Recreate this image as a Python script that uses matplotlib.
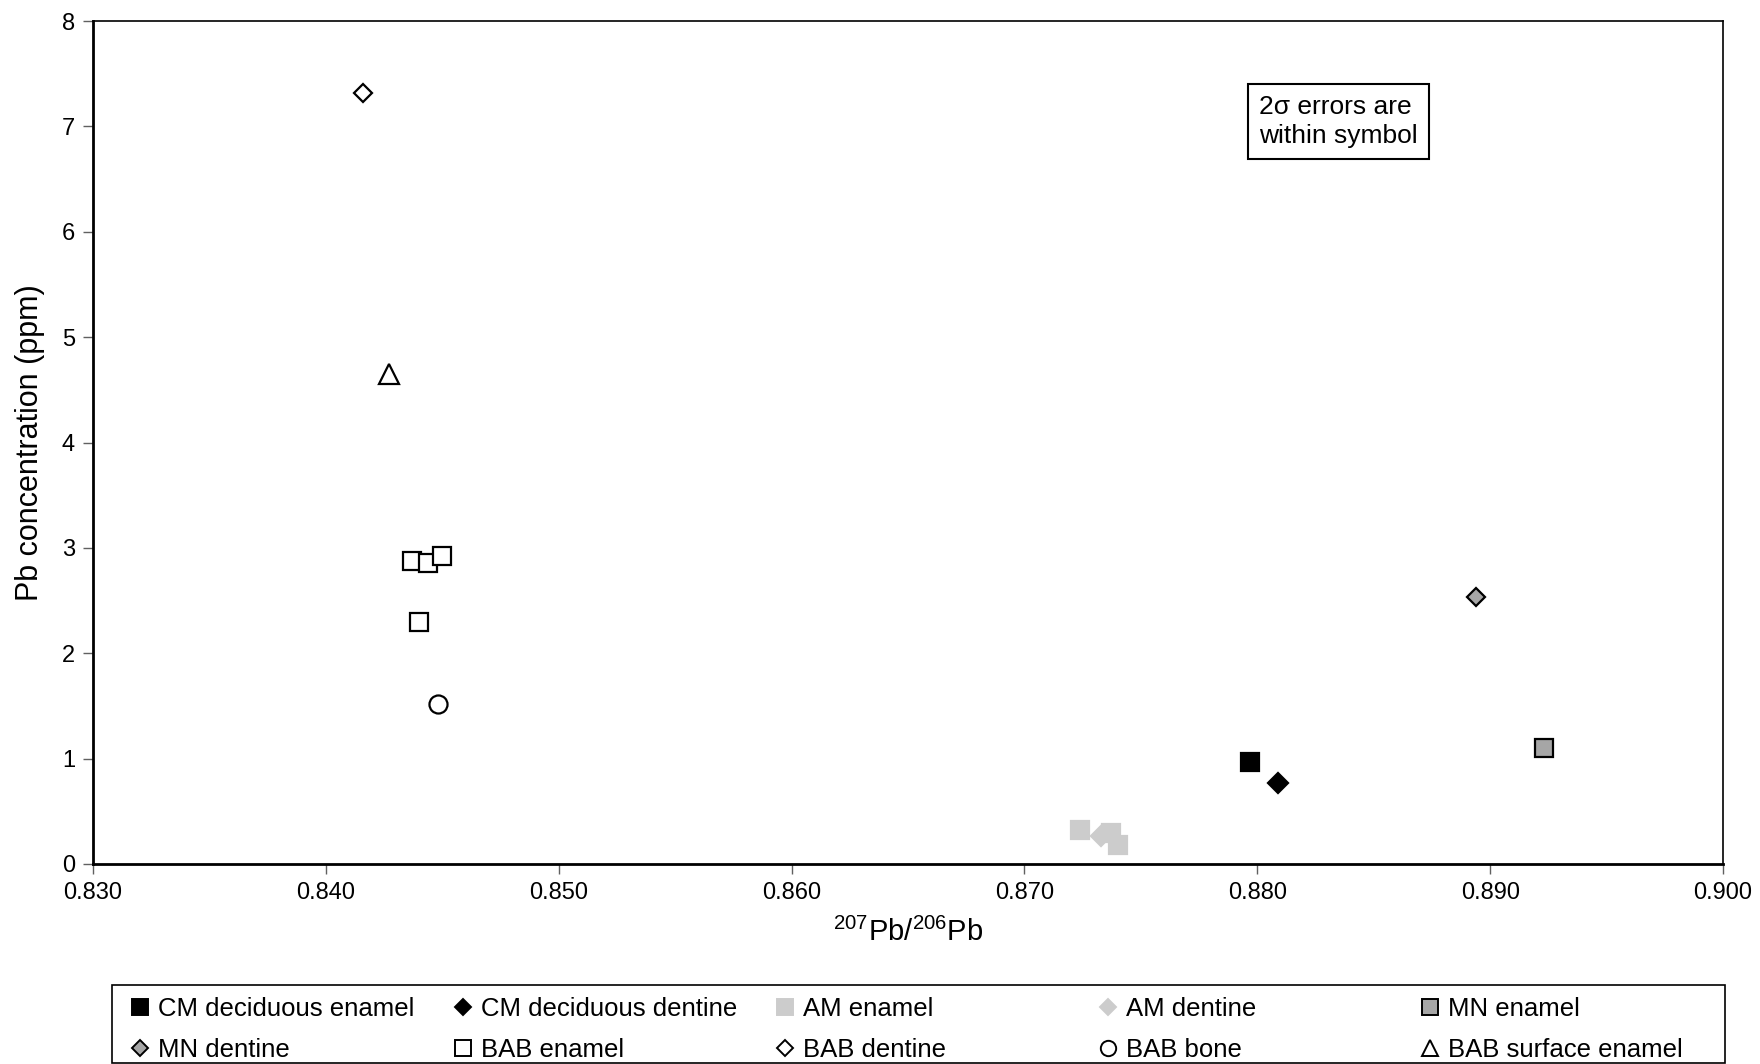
import numpy as np
import matplotlib
matplotlib.use('Agg')
from matplotlib import pyplot as plt
from matplotlib.patches import Rectangle
from matplotlib.lines import Line2D

plt.rcParams['font.family'] = ['Liberation Sans', 'DejaVu Sans']
plt.rcParams['mathtext.fontset'] = 'custom'
plt.rcParams['mathtext.rm'] = 'Liberation Sans'
plt.rcParams['axes.unicode_minus'] = False

# 207Pb/206Pb 比值与 Pb 浓度 (ppm)
cm_enamel_x = [0.8797]
cm_enamel_y = [0.97]
cm_dentine_x = [0.8809]
cm_dentine_y = [0.77]
am_enamel_x = [0.8724, 0.8737, 0.8740]
am_enamel_y = [0.32, 0.29, 0.18]
am_dentine_x = [0.8733]
am_dentine_y = [0.27]
mn_enamel_x = [0.8923]
mn_enamel_y = [1.10]
mn_dentine_x = [0.8894]
mn_dentine_y = [2.53]
bab_enamel_x = [0.8437, 0.8444, 0.8450, 0.8440]
bab_enamel_y = [2.88, 2.86, 2.92, 2.30]
bab_dentine_x = [0.8416]
bab_dentine_y = [7.32]
bab_bone_x = [0.8448]
bab_bone_y = [1.52]
bab_surface_x = [0.8427]
bab_surface_y = [4.65]

# 标签, 数据, 样式 (marker, 大小, 填充色, 边框色)
series = [
    ('CM deciduous enamel', cm_enamel_x, cm_enamel_y, 's', 13, 'black', 'black'),
    ('CM deciduous dentine', cm_dentine_x, cm_dentine_y, 'D', 10, 'black', 'black'),
    ('AM enamel', am_enamel_x, am_enamel_y, 's', 13, '#cccccc', '#cccccc'),
    ('AM dentine', am_dentine_x, am_dentine_y, 'D', 10, '#cccccc', '#cccccc'),
    ('MN enamel', mn_enamel_x, mn_enamel_y, 's', 13, '#a6a6a6', 'black'),
    ('MN dentine', mn_dentine_x, mn_dentine_y, 'D', 9, '#a6a6a6', 'black'),
    ('BAB enamel', bab_enamel_x, bab_enamel_y, 's', 13, 'white', 'black'),
    ('BAB dentine', bab_dentine_x, bab_dentine_y, 'D', 9, 'white', 'black'),
    ('BAB bone', bab_bone_x, bab_bone_y, 'o', 13, 'white', 'black'),
    ('BAB surface enamel', bab_surface_x, bab_surface_y, '^', 14, 'white', 'black'),
]

fig = plt.figure(figsize=(17.6, 10.64), dpi=100)
ax = fig.add_axes([93/1760, 1-864/1064, 1630/1760, 843/1064])

handles = []
for label, xs, ys, mk, ms, fc, ec in series:
    ax.plot(xs, ys, linestyle='none', marker=mk, markersize=ms,
            markerfacecolor=fc, markeredgecolor=ec, markeredgewidth=1.6)
    handles.append(Line2D([], [], linestyle='none', marker=mk, markersize=ms*0.85,
                          markerfacecolor=fc, markeredgecolor=ec, markeredgewidth=1.4,
                          label=label))

ax.set_xlim(0.830, 0.900)
ax.set_ylim(0, 8)
ax.set_xticks(np.arange(0.830, 0.9001, 0.010))
ax.set_yticks(np.arange(0, 9, 1))
ax.xaxis.set_major_formatter(plt.FormatStrFormatter('%.3f'))
ax.tick_params(direction='out', length=7, width=1, color='#606060',
               labelsize=17, pad=6)
for s in ax.spines.values():
    s.set_linewidth(1.2)
    s.set_color('black')
ax.spines['left'].set_linewidth(2)
ax.spines['bottom'].set_linewidth(2)

ax.set_xlabel(r'$^{207}$Pb/$^{206}$Pb', fontsize=21, labelpad=10)
ax.set_ylabel('Pb concentration (ppm)', fontsize=22, labelpad=12)

ax.text(0.7155, 0.912, '2\u03c3 errors are\nwithin symbol', transform=ax.transAxes,
        fontsize=19, va='top', ha='left', linespacing=1.25,
        bbox=dict(boxstyle='square,pad=0.42', facecolor='white',
                  edgecolor='black', linewidth=1.5))

# 图例: 5 列等宽, 按行排列
col_x = [130, 453, 775, 1098, 1420]
for j in range(5):
    fig.legend(handles=[handles[j], handles[j+5]], loc='upper left',
               bbox_to_anchor=(col_x[j]/1760, 1-997/1064), frameon=False,
               fontsize=18.5, handlelength=0.8, handletextpad=0.3,
               labelspacing=0.65, borderpad=0, borderaxespad=0)
fig.patches.append(Rectangle((112/1760, 1-1063/1064), 1613/1760, 78/1064,
                             transform=fig.transFigure, fill=False,
                             edgecolor='black', linewidth=1.2))

fig.savefig('out.png', dpi=100)
